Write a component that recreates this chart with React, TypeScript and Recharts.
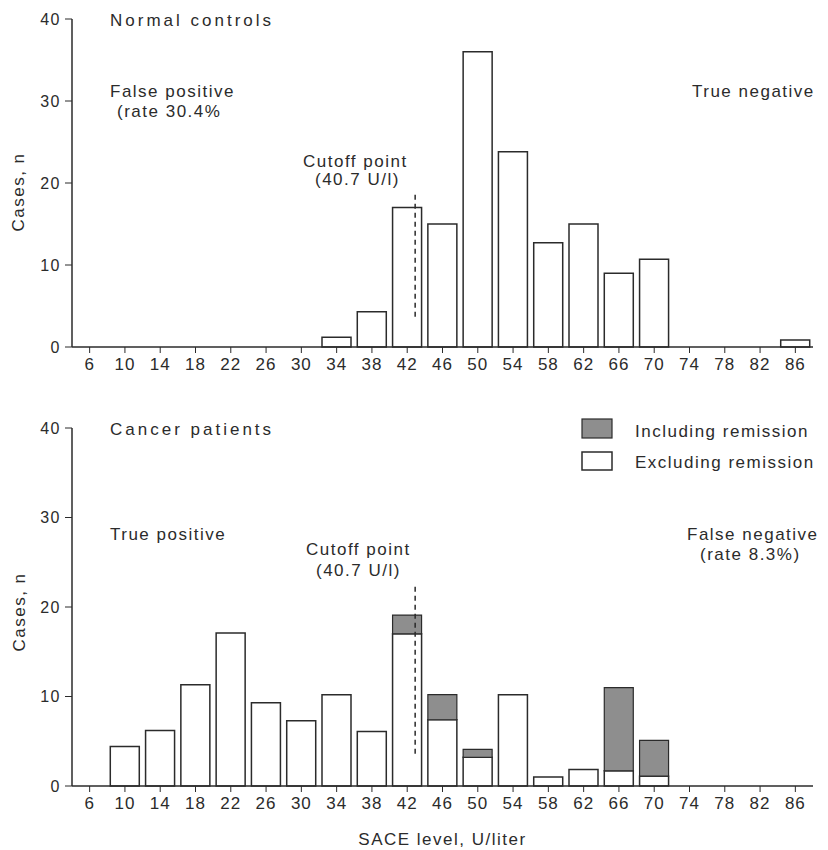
import { BarChart, Bar, XAxis, YAxis, ReferenceLine, Customized } from 'recharts'

const BINS = ['6','10','14','18','22','26','30','34','38','42','46','50','54','58','62','66','70','74','78','82','86']
const CONTROLS = [null,null,null,null,null,null,null,1.2,4.3,17,15,36,23.8,12.7,15,9,10.7,null,null,null,0.85]
const CANCER_EXCL = [null,4.4,6.2,11.3,17.1,9.3,7.3,10.2,6.1,17,7.4,3.2,10.2,1.0,1.85,1.7,1.1,null,null,null,null]
const CANCER_REMISSION = [null,null,null,null,null,null,null,null,null,2.1,2.8,0.9,null,null,null,9.3,4.0,null,null,null,null]
const Y_TICKS = [0,10,20,30,40]
// dashed cutoff marker, where it is drawn on the x scale
const CUTOFF_X = 42.9
const CUTOFF_TOP = [3.7, 19]
const CUTOFF_BOTTOM = [3.6, 22.6]

const FONT = '"Liberation Sans", Arial, Helvetica, sans-serif'
const INK = '#2b2b2b'
const GRAY = '#8e8e8e'

const controlsData = BINS.map((b,i) => ({ bin:b, v:Number(b), n:CONTROLS[i] }))
const cancerData = BINS.map((b,i) => ({ bin:b, v:Number(b), excl:CANCER_EXCL[i], incl:CANCER_REMISSION[i] }))

const tickX = { fill:INK, fontSize:17, fontFamily:FONT, letterSpacing:1 }
const tickY = { fill:INK, fontSize:16, fontFamily:FONT, letterSpacing:1.5 }
const txt = { fill:INK, fontSize:17, fontFamily:FONT, letterSpacing:1.5 }
const title = { fill:INK, fontSize:17, fontFamily:FONT, letterSpacing:3 }

function TopNotes() {
  return (
    <g>
      <text x={110} y={26} style={title}>Normal controls</text>
      <text x={110} y={97} style={txt}>False positive</text>
      <text x={117} y={117} style={txt}>(rate 30.4%</text>
      <text x={692} y={97} style={txt}>True negative</text>
      <text x={303} y={167} style={txt}>Cutoff point</text>
      <text x={315} y={185} style={txt}>(40.7 U/l)</text>
      <text transform="translate(24,192) rotate(-90)" textAnchor="middle" style={txt}>Cases, n</text>
    </g>
  )
}

function BottomNotes() {
  return (
    <g>
      <text x={110} y={35} style={title}>Cancer patients</text>
      <text x={110} y={140} style={txt}>True positive</text>
      <text x={306} y={155} style={txt}>Cutoff point</text>
      <text x={316} y={176} style={txt}>(40.7 U/l)</text>
      <text x={687} y={140} style={txt}>False negative</text>
      <text x={700} y={160} style={txt}>(rate 8.3%)</text>
      <rect x={582} y={19} width={30} height={19} fill={GRAY} stroke={INK} strokeWidth={1.2}/>
      <text x={635} y={37} style={txt}>Including remission</text>
      <rect x={582} y={52} width={30} height={18} fill="#fff" stroke={INK} strokeWidth={1.5}/>
      <text x={635} y={68} style={txt}>Excluding remission</text>
      <text transform="translate(25,212) rotate(-90)" textAnchor="middle" style={txt}>Cases, n</text>
    </g>
  )
}

export default function App() {
  return (
    <div style={{ position:'absolute', left:0, top:0, width:828, height:850, background:'#fff' }}>
      <div style={{ position:'absolute', left:0, top:0 }}>
        <BarChart width={828} height={380} data={controlsData} margin={{ top:19, right:15, bottom:0, left:0 }}>
          <XAxis xAxisId="cat" dataKey="bin" height={33} tick={tickX} tickSize={6} tickMargin={5}
            axisLine={{ stroke:INK, strokeWidth:1.5 }} tickLine={{ stroke:INK }} interval={0}/>
          <XAxis xAxisId="num" dataKey="v" type="number" domain={[4,88]} allowDataOverflow hide/>
          <YAxis width={72} domain={[0,40]} ticks={Y_TICKS} tick={tickY} tickSize={7} tickMargin={4}
            axisLine={{ stroke:INK, strokeWidth:1.5 }} tickLine={{ stroke:INK }} interval={0}/>
          <Bar xAxisId="cat" dataKey="n" fill="#fff" stroke={INK} strokeWidth={1.5} barSize={29} isAnimationActive={false}/>
          <ReferenceLine xAxisId="num" ifOverflow="visible" segment={[{ x:CUTOFF_X, y:CUTOFF_TOP[0] }, { x:CUTOFF_X, y:CUTOFF_TOP[1] }]}
            stroke={INK} strokeWidth={1.5} strokeDasharray="5 4"/>
          <Customized component={TopNotes}/>
        </BarChart>
      </div>
      <div style={{ position:'absolute', left:0, top:400 }}>
        <BarChart width={828} height={450} data={cancerData} margin={{ top:28, right:15, bottom:0, left:0 }}>
          <XAxis xAxisId="cat" dataKey="bin" height={64} tick={tickX} tickSize={6} tickMargin={5}
            axisLine={{ stroke:INK, strokeWidth:1.5 }} tickLine={{ stroke:INK }} interval={0}
            label={{ value:'SACE level, U/liter', position:'insideBottom', offset:5, style:txt }}/>
          <XAxis xAxisId="num" dataKey="v" type="number" domain={[4,88]} allowDataOverflow hide/>
          <YAxis width={72} domain={[0,40]} ticks={Y_TICKS} tick={tickY} tickSize={7} tickMargin={4}
            axisLine={{ stroke:INK, strokeWidth:1.5 }} tickLine={{ stroke:INK }} interval={0}/>
          <Bar xAxisId="cat" dataKey="excl" stackId="a" fill="#fff" stroke={INK} strokeWidth={1.5} barSize={29} isAnimationActive={false}/>
          <Bar xAxisId="cat" dataKey="incl" stackId="a" fill={GRAY} stroke={INK} strokeWidth={1.2} barSize={29} isAnimationActive={false}/>
          <ReferenceLine xAxisId="num" ifOverflow="visible" segment={[{ x:CUTOFF_X, y:CUTOFF_BOTTOM[0] }, { x:CUTOFF_X, y:CUTOFF_BOTTOM[1] }]}
            stroke={INK} strokeWidth={1.5} strokeDasharray="5 4"/>
          <Customized component={BottomNotes}/>
        </BarChart>
      </div>
    </div>
  )
}
